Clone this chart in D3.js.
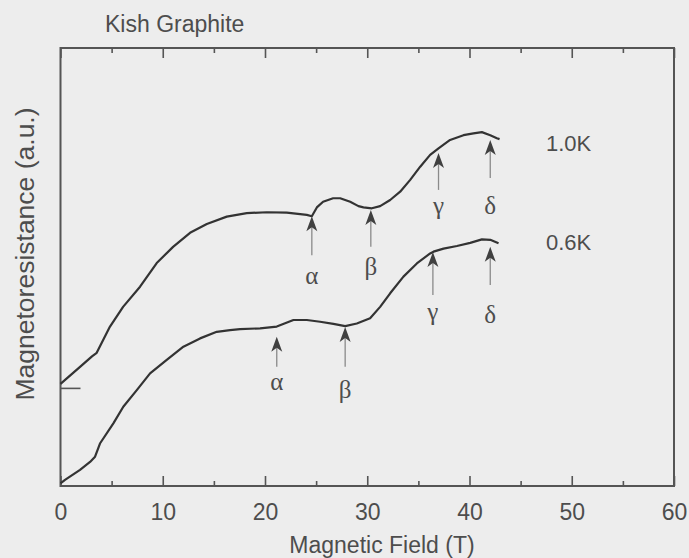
<!DOCTYPE html>
<html>
<head>
<meta charset="utf-8">
<script src="https://cdn.jsdelivr.net/npm/d3@7"></script>
<style>
  html, body { margin: 0; padding: 0; background: #ededed; }
  svg { display: block; }
  text { font-family: "Liberation Sans", Arial, Helvetica, sans-serif; fill: #4d4d4d; }
  .greek { font-family: "Liberation Serif", "Times New Roman", serif; }
</style>
</head>
<body>
<svg id="chart" width="689" height="558"></svg>
<script>
// Magnetic field ticks (T)
const fieldTicks = [0, 10, 20, 30, 40, 50, 60];
const fieldMinorTicks = [5, 15, 25, 35, 45, 55];
// Zero level of the offset 1.0K trace (a.u.)
const offsetLevel = [22.4];

// 1.0 K trace: field (T) and magnetoresistance (a.u., offset)
const field10K = [0, 1.91, 3.08, 3.54, 4.84, 6.12, 7.78, 9.41, 11.01, 12.67, 14.31, 16.26, 18.22, 20.18, 22.13, 24.09, 24.58,
  25.07, 25.68, 26.66, 27.35, 28.33, 29.14, 29.63, 30.45, 31.26, 32.24, 33.22, 34.2, 35.18, 36.15, 36.97, 38.1, 39.41,
  40.39, 41.21, 42.03, 42.68, 42.94];
const mr10K = [23.3, 27.2, 29.6, 30.4, 36.4, 40.9, 45.5, 50.9, 54.6, 57.8, 59.8, 61.5, 62.3, 62.5, 62.4, 61.9, 61.6,
  63.6, 64.9, 65.7, 65.7, 64.9, 63.9, 63.6, 63.4, 63.9, 65.3, 67.2, 69.9, 72.9, 75.6, 77.1, 79.0, 80.1,
  80.5, 80.8, 80.1, 79.4, 79.2];

// 0.6 K trace
const field06K = [0, 0.44, 1.91, 2.89, 3.38, 3.86, 5.17, 6.14, 7.46, 8.76, 10.39, 12.02, 13.65, 15.28, 16.58, 17.56,
  19.52, 21.15, 22.78, 24.09, 25.39, 26.69, 27.84, 28.98, 30.28, 31.26, 32.24, 33.54, 34.85, 36.15, 36.48, 37.46,
  38.77, 40.07, 41.21, 42.03, 42.84];
const mr06K = [0.6, 1.4, 3.7, 5.5, 6.7, 9.7, 14.3, 18.1, 21.9, 25.7, 28.8, 31.8, 33.7, 35.2, 35.6, 35.8,
  36.0, 36.4, 37.9, 37.9, 37.5, 37.0, 36.5, 37.1, 38.3, 40.9, 44.0, 47.8, 50.8, 53.1, 53.5, 54.2,
  54.8, 55.5, 56.3, 56.2, 55.4];

// Transition markers
const markerNames = ["α", "β", "γ", "δ"];
const markers10KField = [24.58, 30.35, 36.97, 42.03];
const markers10KTip = [61.6, 63.0, 76.0, 79.0];
const markers10KTail = [52.7, 54.6, 67.6, 70.3];
const markers10KLabel = [47.9, 50.0, 63.8, 63.8];
const markers06KField = [21.15, 27.84, 36.42, 42.03];
const markers06KTip = [34.1, 36.3, 53.4, 54.6];
const markers06KTail = [27.2, 27.2, 43.6, 45.9];
const markers06KLabel = [23.7, 21.9, 39.5, 39.0];

const seriesNames = ["1.0K", "0.6K"];
const seriesLabelLevel = [76.5, 53.9];

const svg = d3.select("#chart");
const plot = { left: 60.5, right: 674, top: 48, bottom: 486 };

const x = d3.scaleLinear().domain([0, 60]).range([plot.left, plot.right]);
const y = d3.scaleLinear().domain([0, 100]).range([plot.bottom, plot.top]);

// Frame
svg.append("rect")
  .attr("x", plot.left).attr("y", plot.top)
  .attr("width", plot.right - plot.left).attr("height", plot.bottom - plot.top)
  .attr("fill", "none").attr("stroke", "#555").attr("stroke-width", 2);

function styleAxis(g) {
  g.select(".domain").remove();
  g.selectAll(".tick line").attr("stroke", "#555").attr("stroke-width", 1.6);
}

// Bottom axis: inward ticks, labels below
svg.append("g")
  .attr("transform", `translate(0,${plot.bottom})`)
  .call(d3.axisBottom(x).tickValues(fieldTicks).tickSize(-10).tickPadding(18).tickFormat(d3.format("d")))
  .call(styleAxis)
  .call(g => g.selectAll(".tick text").attr("font-size", 23).attr("fill", "#4d4d4d")
    .style("font-family", "'Liberation Sans', Arial, sans-serif"));
svg.append("g")
  .attr("transform", `translate(0,${plot.bottom})`)
  .call(d3.axisBottom(x).tickValues(fieldMinorTicks).tickSize(-5).tickFormat(""))
  .call(styleAxis);

// Top axis: inward ticks only
svg.append("g")
  .attr("transform", `translate(0,${plot.top})`)
  .call(d3.axisTop(x).tickValues(fieldTicks).tickSize(-10).tickFormat(""))
  .call(styleAxis);
svg.append("g")
  .attr("transform", `translate(0,${plot.top})`)
  .call(d3.axisTop(x).tickValues(fieldMinorTicks).tickSize(-5).tickFormat(""))
  .call(styleAxis);

// Left axis: single marker for the offset zero
svg.append("g")
  .attr("transform", `translate(${plot.left},0)`)
  .call(d3.axisLeft(y).tickValues(offsetLevel).tickSize(-20).tickFormat(""))
  .call(styleAxis);

// Axis titles
svg.append("text")
  .attr("x", 382).attr("y", 553)
  .attr("text-anchor", "middle").attr("font-size", 23)
  .text("Magnetic Field (T)");
svg.append("text")
  .attr("transform", "translate(34,254) rotate(-90)")
  .attr("text-anchor", "middle").attr("font-size", 26.5)
  .text("Magnetoresistance (a.u.)");
svg.append("text")
  .attr("x", 105).attr("y", 32)
  .attr("font-size", 23)
  .text("Kish Graphite");

// Traces
const line = d3.line().x(d => x(d[0])).y(d => y(d[1]));
const traces = [d3.zip(field10K, mr10K), d3.zip(field06K, mr06K)];
svg.selectAll("path.trace")
  .data(traces)
  .join("path")
  .attr("class", "trace")
  .attr("d", line)
  .attr("fill", "none")
  .attr("stroke", "#333")
  .attr("stroke-width", 2.2)
  .attr("stroke-linejoin", "round");

// Temperature labels
svg.selectAll("text.series")
  .data(seriesNames)
  .join("text")
  .attr("class", "series")
  .attr("x", 546)
  .attr("y", (d, i) => y(seriesLabelLevel[i]))
  .attr("font-size", 22)
  .text(d => d);

// Arrows with Greek labels
function drawMarkers(fields, tips, tails, labels) {
  const g = svg.append("g");
  markerNames.forEach((name, i) => {
    const px = x(fields[i]);
    const tipY = y(tips[i]);
    g.append("line")
      .attr("x1", px).attr("x2", px)
      .attr("y1", tipY + 10).attr("y2", y(tails[i]))
      .attr("stroke", "#8a8a8a").attr("stroke-width", 1.3);
    g.append("path")
      .attr("transform", `translate(${px},${tipY})`)
      .attr("d", "M0,0 L5.5,15 L0,11 L-5.5,15 Z")
      .attr("fill", "#404040");
    g.append("text")
      .attr("class", "greek")
      .attr("x", px).attr("y", y(labels[i]))
      .attr("dy", "0.3em")
      .attr("text-anchor", "middle")
      .attr("font-size", 25)
      .text(name);
  });
}
drawMarkers(markers10KField, markers10KTip, markers10KTail, markers10KLabel);
drawMarkers(markers06KField, markers06KTip, markers06KTail, markers06KLabel);
</script>
</body>
</html>
